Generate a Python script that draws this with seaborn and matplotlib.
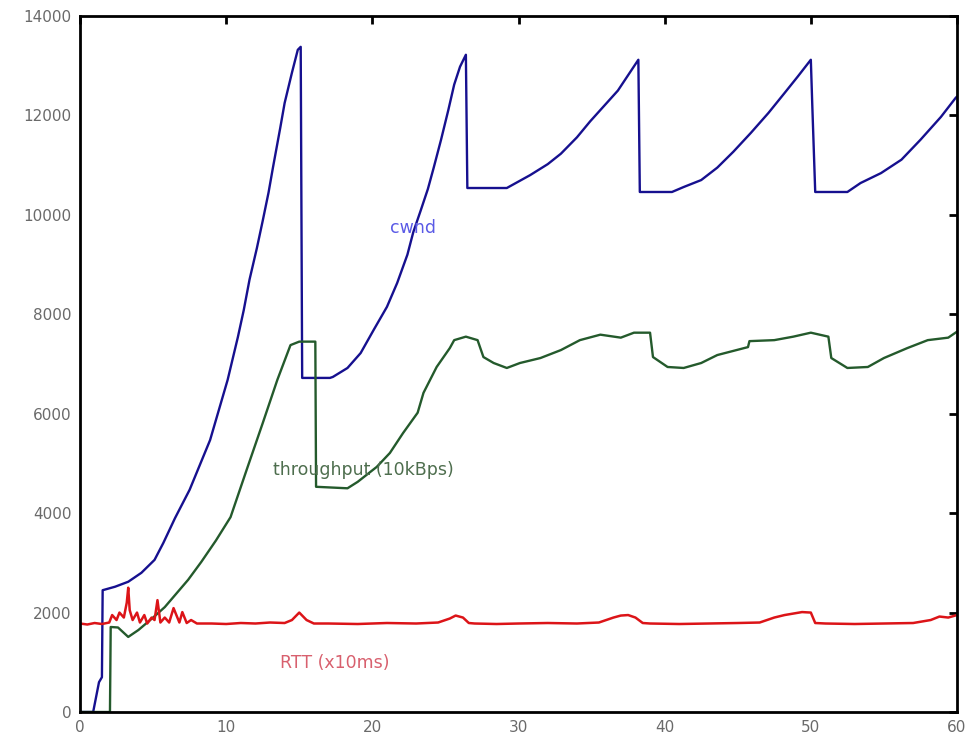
import matplotlib
matplotlib.use("Agg")
import matplotlib.pyplot as plt
import seaborn as sns

# ---- data ----
cwnd_t = [0, 0.9, 1.1, 1.3, 1.5, 1.55, 2.4, 3.3, 4.2, 5.1, 5.7, 6.5, 7.5, 8.9, 10.1, 10.8,
          11.2, 11.6, 12.1, 12.5, 12.9, 13.2, 13.7, 14.0, 14.5, 14.9, 15.1, 15.2, 17.1, 17.3,
          18.3, 19.2, 20.1, 21.0, 21.7, 22.4, 22.8, 23.3, 23.8, 24.2, 24.7, 25.2, 25.6, 26.0,
          26.4, 26.5, 29.2, 30.8, 32.0, 32.9, 34.0, 34.9, 36.8, 38.2, 38.3, 40.5, 41.3, 42.5, 43.6, 44.7,
          45.9, 47.1, 48.2, 49.1, 50.0, 50.1, 50.3, 52.5, 53.4, 54.8, 56.2, 57.5, 58.9, 59.9, 60.0]
cwnd_v = [0, 0, 300, 600, 700, 2450, 2520, 2620, 2800, 3060, 3400, 3900, 4470, 5470, 6680, 7540,
          8080, 8700, 9330, 9880, 10450, 10950, 11750, 12250, 12860, 13320, 13380, 6720, 6720, 6740,
          6920, 7220, 7690, 8150, 8630, 9200, 9650, 10080, 10520, 10950, 11510, 12110, 12620, 12980,
          13220, 10540, 10540, 10800, 11020, 11230, 11560, 11880, 12500, 13120, 10460, 10460, 10560, 10700, 10950, 11270,
          11650, 12050, 12450, 12780, 13120, 12200, 10460, 10460, 10640, 10840, 11110, 11510, 11970, 12350, 12380]

thr_t = [0, 2.05, 2.1, 2.6, 3.3, 4.0, 5.0, 5.8, 7.4, 8.3, 9.3, 10.3, 11.4, 12.5, 13.5, 14.4,
         15.0, 16.1, 16.15, 18.3, 19.0, 20.3, 21.2, 22.1, 23.1, 23.5, 24.4, 25.3, 25.6, 26.4,
         27.2, 27.6, 28.3, 29.2, 30.1, 31.5, 32.9, 34.2, 35.6, 37.0, 37.9, 39.0, 39.2, 40.2,
         41.3, 42.5, 43.6, 45.7, 45.8, 47.5, 48.8, 50.0, 51.2, 51.4, 52.5, 53.9, 55.0, 56.6,
         58.0, 59.4, 60.0]
thr_v = [0, 0, 1710, 1700, 1510, 1650, 1900, 2110, 2660, 3020, 3450, 3920, 4870, 5810, 6680, 7380,
         7450, 7450, 4530, 4500, 4630, 4930, 5210, 5610, 6020, 6420, 6940, 7320, 7480, 7550,
         7480, 7140, 7020, 6920, 7020, 7120, 7280, 7480, 7590, 7530, 7630, 7630, 7140, 6940,
         6920, 7020, 7180, 7340, 7460, 7480, 7550, 7630, 7550, 7120, 6920, 6940, 7120, 7320,
         7480, 7530, 7650]

rtt_t = [0, 0.5, 1.0, 1.5, 2.0, 2.2, 2.5, 2.7, 3.0, 3.2, 3.3, 3.4, 3.6, 3.9, 4.1, 4.4, 4.6,
         4.9, 5.1, 5.3, 5.5, 5.8, 6.1, 6.4, 6.8, 7.0, 7.3, 7.6, 8.0, 9.0, 10.0, 11.0, 12.0,
         13.0, 14.0, 14.5, 15.0, 15.5, 16.0, 17.0, 19.0, 21.0, 23.0, 24.5, 25.3, 25.7, 26.2,
         26.6, 27.0, 28.5, 30.0, 32.0, 34.0, 35.5, 36.5, 37.0, 37.5, 38.0, 38.5, 39.0, 41.0,
         43.0, 45.0, 46.5, 47.5, 48.2, 48.8, 49.4, 50.0, 50.3, 51.0, 53.0, 55.0, 57.0, 58.2,
         58.8, 59.4, 60.0]
rtt_v = [1780, 1760, 1790, 1770, 1800, 1950, 1850, 2000, 1900, 2200, 2500, 2050, 1850, 2000, 1800, 1950, 1780,
         1900, 1850, 2250, 1800, 1900, 1800, 2090, 1800, 2010, 1790, 1850, 1780, 1780, 1770, 1790, 1780,
         1800, 1790, 1850, 2000, 1850, 1780, 1780, 1770, 1790, 1780, 1800, 1880, 1940, 1900,
         1790, 1780, 1770, 1780, 1790, 1780, 1800, 1900, 1940, 1950, 1900, 1790, 1780, 1770,
         1780, 1790, 1800, 1900, 1950, 1980, 2010, 2000, 1790, 1780, 1770, 1780, 1790, 1850,
         1920, 1900, 1950]

x_ticks = [0, 10, 20, 30, 40, 50, 60]
y_ticks = [0, 2000, 4000, 6000, 8000, 10000, 12000, 14000]

labels = [("cwnd", 21.2, 9740, "#5a5ae6"),
          ("throughput (10kBps)", 13.2, 4870, "#4e6e4e"),
          ("RTT (x10ms)", 13.7, 990, "#d8606e")]

# ---- plot ----
sns.set_style("white")
plt.rcParams['font.family'] = ['DejaVu Sans']

fig = plt.figure(figsize=(9.69, 7.39), dpi=100)
ax = fig.add_axes([80/969, 27/739, (957-80)/969, (712-16)/739])

sns.lineplot(x=cwnd_t, y=cwnd_v, ax=ax, color="#16108f", linewidth=1.7,
             estimator=None, sort=False)
sns.lineplot(x=thr_t, y=thr_v, ax=ax, color="#245a2c", linewidth=1.7,
             estimator=None, sort=False)
sns.lineplot(x=rtt_t, y=rtt_v, ax=ax, color="#dc1418", linewidth=1.8,
             estimator=None, sort=False)

for txt, tx, ty, col in labels:
    ax.text(tx, ty, txt, color=col, fontsize=12.5, ha="left", va="center")

ax.set_xlim(0, 60)
ax.set_ylim(0, 14000)
ax.set_xticks(x_ticks)
ax.set_yticks(y_ticks)
ax.set_xticklabels([str(v) for v in x_ticks])
ax.set_yticklabels([str(v) for v in y_ticks])
ax.tick_params(direction="in", length=6, width=2, colors="black",
               labelcolor="#6a6a6a", labelsize=11, top=True, right=True, pad=6)
for s in ax.spines.values():
    s.set_visible(True)
    s.set_color("black")
    s.set_linewidth(2.0)
ax.set_xlabel("")
ax.set_ylabel("")
ax.grid(False)

fig.savefig("out.png", dpi=100)
